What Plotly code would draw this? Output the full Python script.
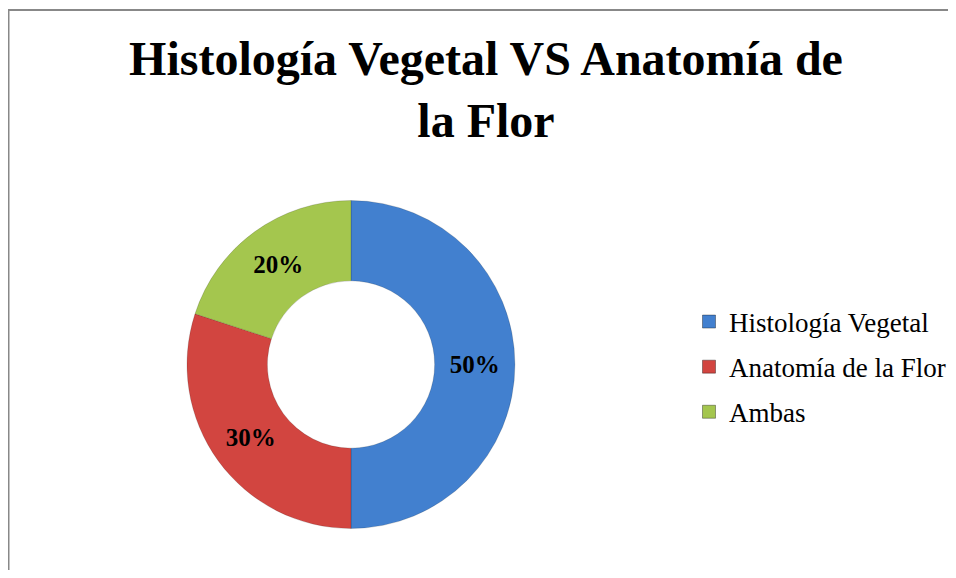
import plotly.graph_objects as go

labels = ["Histología Vegetal", "Anatomía de la Flor", "Ambas"]
values = [50, 30, 20]
colors = ["#4280CF", "#D24540", "#A4C64E"]
title_text = "Histología Vegetal VS Anatomía de<br>la Flor"

# page body has an 8px margin; figure sized to fill the rest of the window
W, H = 948, 562
cx, cy, r = 343, 356.5, 164
serif = "Liberation Serif, Times New Roman, serif"

fig = go.Figure()
fig.add_trace(go.Pie(
    labels=labels,
    values=values,
    hole=0.51,
    sort=False,
    direction="clockwise",
    rotation=0,
    marker=dict(colors=colors, line=dict(color="rgba(0,0,0,0.25)", width=0.6)),
    texttemplate="%{percent:.0%}",
    textposition="inside",
    insidetextorientation="horizontal",
    textfont=dict(family=serif, size=25, color="black", weight="bold"),
    domain=dict(x=[(cx - r) / W, (cx + r) / W], y=[1 - (cy + r) / H, 1 - (cy - r) / H]),
    showlegend=False,
))

# legend entries (one per category, spaced like the original)
for i, (lab, col) in enumerate(zip(labels, colors)):
    fig.add_trace(go.Scatter(
        x=[None], y=[None], mode="markers", name=lab,
        legendgroup=f"g{i}",
        marker=dict(symbol="square", size=13, color=col,
                    line=dict(color="rgba(0,0,0,0.35)", width=1)),
        hoverinfo="skip",
    ))

fig.add_shape(type="line", xref="paper", yref="paper",
              x0=0, x1=1, y0=1 - 2 / H, y1=1 - 2 / H,
              line=dict(color="#888888", width=2))
fig.add_shape(type="line", xref="paper", yref="paper",
              x0=0.5 / W, x1=0.5 / W, y0=0, y1=1 - 2 / H,
              line=dict(color="#888888", width=2))

fig.update_layout(
    width=W, height=H,
    margin=dict(l=0, r=0, t=0, b=0),
    paper_bgcolor="white",
    plot_bgcolor="white",
    xaxis=dict(visible=False),
    yaxis=dict(visible=False),
    title=dict(text=title_text, x=478 / W, xanchor="center", xref="paper",
               y=1 - 67 / H, yanchor="top", yref="paper",
               font=dict(family=serif, size=48, color="black", weight="bold")),
    legend=dict(x=681 / W, xanchor="left", y=1 - 359 / H, yanchor="middle",
                tracegroupgap=7,
                font=dict(family=serif, size=27, color="black"),
                bgcolor="rgba(0,0,0,0)"),
)

fig.write_html("out.html")
